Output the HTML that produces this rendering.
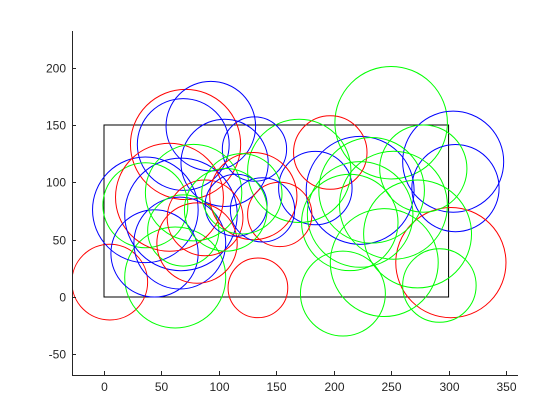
<!DOCTYPE html>
<html><head><meta charset="utf-8"><style>
body{margin:0;background:#fff;}
svg{display:block;font-family:"Liberation Sans",sans-serif;}
</style></head><body>
<svg id="chart" width="560" height="420">
<rect width="560" height="420" fill="#fff"/>
</svg>
<script>
const xTicks=[0,50,100,150,200,250,300,350];
const yTicks=[-50,0,50,100,150,200];
const cx=[250,304,306,302,292,208,244,223,197,184,273,278,233,214,252,170,223,5,62,134,71,93,69,131,105,36,36,57,44,67,66,78,69,81,88,130,153,115,138,106,120];
const cy=[152,118,95,30,10,3,30,93,126,95,55,112,93,65,80,110,72,13,17,8,133,149,133,129,117,76,80,87,38,72,47,91,58,47,69,88,72,80,76,76,90];
const cr=[49,44,38,48,32,37,47,47,32,32,47,38,46,42,47,45,46,33,44,26,48,39,40,28,38,46,37,47,38,49,40,42,31,35,33,38,28,27,28,36,35];
const cc=['g','b','b','r','g','g','g','b','r','b','g','g','g','g','g','g','g','r','g','r','r','b','b','b','b','b','g','r','b','b','b','g','g','r','r','r','r','b','b','g','g'];
const col={r:'#ff0000',g:'#00ff00',b:'#0000ff'};
const X=v=>104+v*1.1486, Y=v=>297-v*1.1467, S=v=>v*1.148;
const svg=document.getElementById('chart');const NS='http://www.w3.org/2000/svg';
function mk(t,a){const e=document.createElementNS(NS,t);for(const k in a)e.setAttribute(k,a[k]);svg.appendChild(e);return e;}
const clip=mk('clipPath',{id:'clp'});
const cr2=document.createElementNS(NS,'rect');cr2.setAttribute('x',72);cr2.setAttribute('y',31);cr2.setAttribute('width',446);cr2.setAttribute('height',344);clip.appendChild(cr2);
const g=mk('g',{'clip-path':'url(#clp)'});


const box=document.createElementNS(NS,'rect');
box.setAttribute('x',X(0));box.setAttribute('y',Y(150));box.setAttribute('width',X(300)-X(0));box.setAttribute('height',Y(0)-Y(150));
box.setAttribute('fill','none');box.setAttribute('stroke','#000');


g.appendChild(box);
for(let i=0;i<cx.length;i++){
 const c=document.createElementNS(NS,'circle');
 c.setAttribute('cx',X(cx[i]));c.setAttribute('cy',Y(cy[i]));c.setAttribute('r',S(cr[i]));
 c.setAttribute('fill','none');c.setAttribute('stroke',col[cc[i]]);c.setAttribute('stroke-width','1');
 
 
 g.appendChild(c);
}
const ax=mk('path',{d:'M72.5,31 V375.5 H518',fill:'none',stroke:'#262626'});


xTicks.forEach(t=>{const x=Math.round(X(t))+0.5;
 mk('line',{x1:x,x2:x,y1:375,y2:371,stroke:'#262626'});
 const tx=mk('text',{x:x,y:391,'text-anchor':'middle','font-size':'12',fill:'#262626'});tx.textContent=t;
 
 });
yTicks.forEach(t=>{const y=Math.round(Y(t))+0.5;
 mk('line',{x1:72,x2:76,y1:y,y2:y,stroke:'#262626'});
 const tx=mk('text',{x:66,y:y+4,'text-anchor':'end','font-size':'12',fill:'#262626'});tx.textContent=t;
 
 });
</script>
</body></html>
